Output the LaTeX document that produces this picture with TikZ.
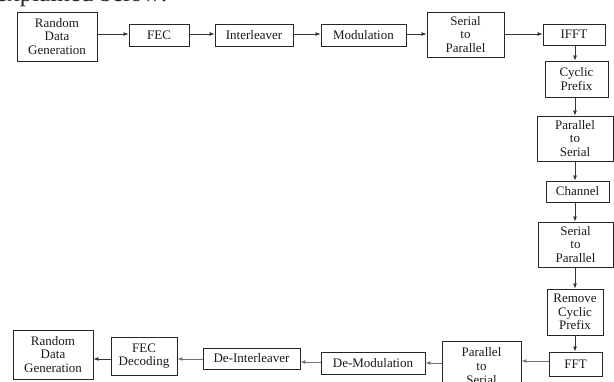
\documentclass[tikz,border=0pt]{standalone}
\usepackage{fontspec}
\setmainfont{Liberation Serif}
\usetikzlibrary{arrows.meta}
\begin{document}
\begin{tikzpicture}[x=1pt,y=-1pt,
  blk/.style={draw=black!85, line width=0.9pt, inner sep=0pt, align=center,
    font=\fontsize{13}{13.8}\selectfont, text=black!90},
  arr/.style={draw=black!80, line width=0.8pt, -{Latex[length=5pt,width=4pt]}},
  garr/.style={draw=black!55, line width=0.9pt, -{Latex[length=5pt,width=4pt]}}]
\useasboundingbox (0,0) rectangle (614,381);
\clip (0,0) rectangle (614,381);
\node[anchor=base west, inner sep=0pt, font=\fontsize{25}{25}\selectfont, text=black!85] (title) at (-4,1) {explained below:};
% transmitter row
\node[blk, minimum width=80, minimum height=49] (rdg) at (57,36.5) {Random\\Data\\Generation};
\node[blk, minimum width=60, minimum height=22] (fec) at (159,35) {FEC};
\node[blk, minimum width=78, minimum height=22] (inter) at (254,35) {Interleaver};
\node[blk, minimum width=85, minimum height=22] (mod) at (363.5,35) {Modulation};
\node[blk, minimum width=77, minimum height=45] (stp) at (465.5,34.5) {Serial\\to\\Parallel};
\node[blk, minimum width=62, minimum height=21] (ifft) at (574,34.5) {IFFT};
% right column
\node[blk, minimum width=63, minimum height=36] (cp) at (576.5,79) {Cyclic\\Prefix};
\node[blk, minimum width=76, minimum height=45] (pts) at (575,138.5) {Parallel\\to\\Serial};
\node[blk, minimum width=63, minimum height=21] (chan) at (577.5,191.5) {Channel};
\node[blk, minimum width=75, minimum height=45] (stpb) at (575.5,244.5) {Serial\\to\\Parallel};
\node[blk, minimum width=56, minimum height=46] (rcp) at (575,312) {Remove\\Cyclic\\Prefix};
\node[blk, minimum width=53, minimum height=24] (fft) at (575.5,364) {FFT};
% receiver row
\node[blk, minimum width=79, minimum height=50] (ptsb) at (481.5,366) {Parallel\\to\\Serial};
\node[blk, minimum width=104, minimum height=22] (demod) at (373,363) {De-Modulation};
\node[blk, minimum width=97, minimum height=21] (deint) at (251.5,358.5) {De-Interleaver};
\node[blk, minimum width=66, minimum height=38] (fecd) at (144,356) {FEC\\Decoding};
\node[blk, minimum width=80, minimum height=49] (rdgb) at (53,354.5) {Random\\Data\\Generation};
% connectors top row
\draw[arr] (rdg.east |- 0,34) -- (fec.west |- 0,34);
\draw[arr] (fec.east |- 0,34) -- (inter.west |- 0,34);
\draw[arr] (inter.east |- 0,34) -- (mod.west |- 0,34);
\draw[arr] (mod.east |- 0,34) -- (stp.west |- 0,34);
\draw[arr] (stp.east |- 0,34) -- (ifft.west |- 0,34);
% right column
\draw[arr] (ifft.south -| 575,0) -- (cp.north -| 575,0);
\draw[arr] (cp.south -| 575,0) -- (pts.north -| 575,0);
\draw[arr] (pts.south -| 575,0) -- (chan.north -| 575,0);
\draw[arr] (chan.south -| 575,0) -- (stpb.north -| 575,0);
\draw[arr] (stpb.south -| 575,0) -- (rcp.north -| 575,0);
\draw[arr] (rcp.south -| 575,0) -- (fft.north -| 575,0);
% bottom row
\draw[garr] (fft.west |- 0,361) -- (ptsb.east |- 0,361);
\draw[garr] (ptsb.west |- 0,363) -- (demod.east |- 0,363);
\draw[garr] (demod.west |- 0,362) -- (deint.east |- 0,362);
\draw[garr] (deint.west |- 0,359) -- (fecd.east |- 0,359);
\draw[arr] (fecd.west |- 0,359) -- (rdgb.east |- 0,359);
\end{tikzpicture}
\end{document}
